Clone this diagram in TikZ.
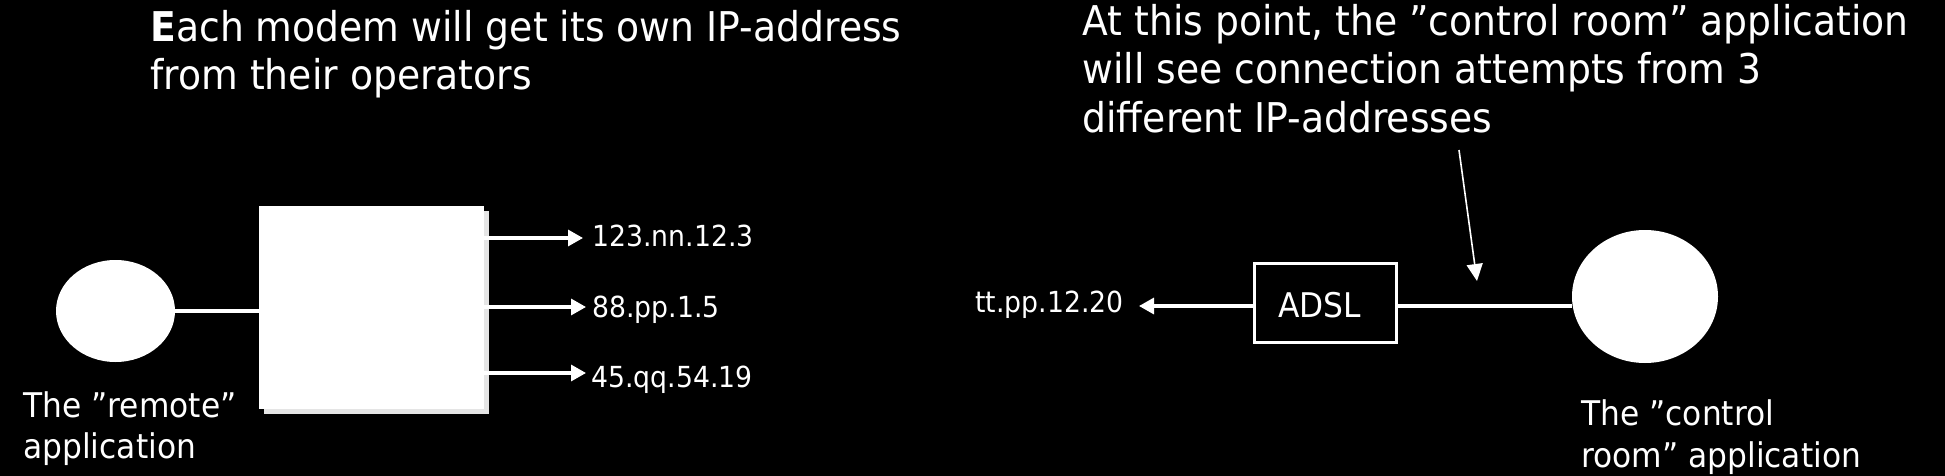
\documentclass[tikz,border=0pt]{standalone}
\usepackage{fontspec}
\setmainfont[FakeStretch=0.92]{DejaVu Sans}
\usetikzlibrary{arrows.meta,shapes.geometric,shadows}
\begin{document}
\begin{tikzpicture}[x=0.5pt,y=-0.5pt]
\tikzset{
  txt/.style={anchor=base west, inner sep=0pt, text=white},
  hdr/.style={txt, font=\fontsize{20.5}{24}\selectfont},
  lbl/.style={txt, font=\fontsize{17}{20}\selectfont},
  iplbl/.style={txt, font=\fontsize{14.5}{17}\selectfont},
  app/.style={ellipse, fill=white, draw=none, inner sep=0pt},
  modem/.style={rectangle, fill=white, inner sep=0pt,
    minimum width=112.5pt, minimum height=101.5pt,
    drop shadow={shadow xshift=2.5pt, shadow yshift=-2.5pt, fill=white!90!black, opacity=1}},
  adslbox/.style={rectangle, draw=white, line width=1.4pt, inner sep=0pt,
    minimum width=71.1pt, minimum height=39.6pt},
  wire/.style={draw=white, line width=1.6pt},
  arr/.style={wire, -{Triangle[length=7.5pt,width=8pt]}},
  thinarr/.style={draw=white, line width=0.8pt, -{Triangle[length=8.5pt,width=8pt]}},
}
\useasboundingbox (0,0) rectangle (1945,476);
\fill[black] (0,0) rectangle (1945,476);

% headers
\node[hdr] (h1a) at (150,42) {\textbf{E}ach modem will get its own IP-address};
\node[hdr] (h1b) at (150,90) {from their operators};
\node[hdr] (h2a) at (1082,36) {At this point, the ”control room” application};
\node[hdr] (h2b) at (1082,84) {will see connection attempts from 3};
\node[hdr] (h2c) at (1082,133) {different IP-addresses};

% left part
\node[app, minimum width=59.5pt, minimum height=51pt] (remote) at (115.5,311) {};
\node[modem] (box) at (371.5,307.5) {};
\draw[wire] (remote.east) -- (box.west |- remote.east);

\coordinate (tip1) at (583,238);
\coordinate (tip2) at (586,307);
\coordinate (tip3) at (586,373);
\draw[arr] (box.east |- tip1) -- (tip1);
\draw[arr] (box.east |- tip2) -- (tip2);
\draw[arr] (box.east |- tip3) -- (tip3);
\node[iplbl] (ip1) at (592,247) {123.nn.12.3};
\node[iplbl] (ip2) at (592,317) {88.pp.1.5};
\node[iplbl] (ip3) at (591,387) {45.qq.54.19};

\node[lbl] (rl1) at (23,417) {The ”remote”};
\node[lbl] (rl2) at (23,458) {application};

% right part
\node[adslbox] (adsl) at (1325.5,303) {};
\node[lbl] (adsltxt) at (1278,317) {ADSL};
\node[app, minimum width=73pt, minimum height=66.5pt] (ctrl) at (1645,296.5) {};

\coordinate (tipL) at (1139,306);
\draw[arr] (adsl.west |- tipL) -- (tipL);
\node[iplbl] (ipL) at (975,312) {tt.pp.12.20};
\draw[wire] (adsl.east |- tipL) -- (tipL -| ctrl.west);

\coordinate (vs) at (1459,150);
\coordinate (vt) at (1477,281);
\draw[thinarr] (vs) -- (vt);

\node[lbl] (cl1) at (1581,425) {The ”control};
\node[lbl] (cl2) at (1581,467) {room” application};
\end{tikzpicture}
\end{document}
